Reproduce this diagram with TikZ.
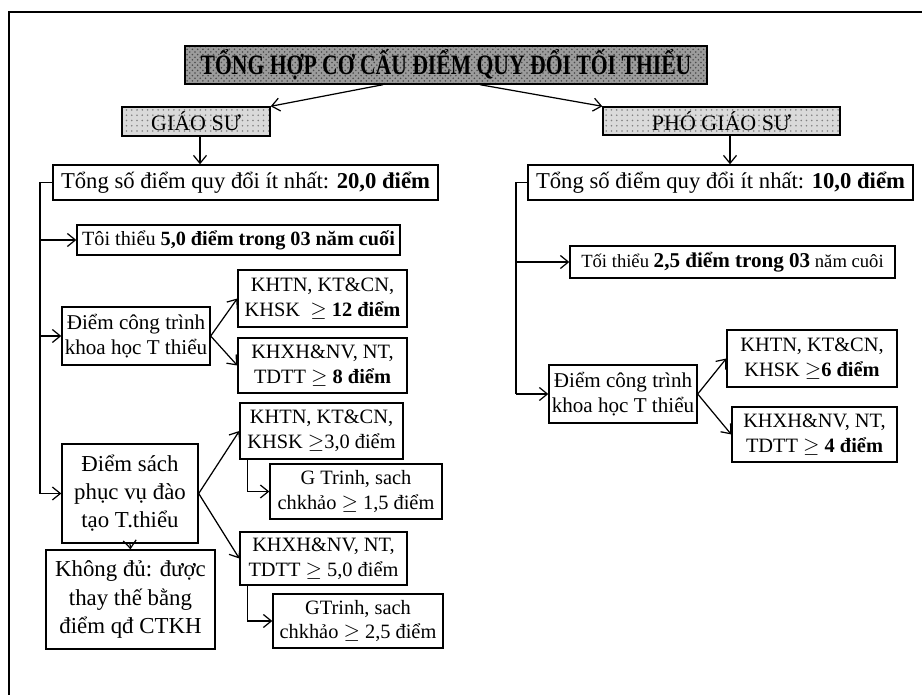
\documentclass[tikz,border=0pt]{standalone}
\usepackage{fontspec}
\setmainfont{Liberation Serif}
\usetikzlibrary{arrows.meta,patterns}
\definecolor{titlefill}{HTML}{9C9C9C}
\definecolor{rankfill}{HTML}{DADADA}
\tikzset{
  box/.style={draw, line width=0.8pt, inner sep=1pt, align=center,
              font=\fontsize{11.6}{14}\selectfont},
  bigbox/.style={box, font=\fontsize{13}{16}\selectfont},
  rankbox/.style={box, preaction={fill=rankfill}, pattern=dots, pattern color=gray,
                  font=\fontsize{12.5}{14}\selectfont},
  link/.style={-{Straight Barb[length=1.6mm,width=2.6mm]}, line width=0.7pt},
}

\begin{document}
\begin{tikzpicture}[x=0.02cm, y=-0.02cm]
    \useasboundingbox (0,0) rectangle (922,695);
    \draw[line width=1.2pt] (9,720) -- (9,12) -- (940,12);

    \node[box, preaction={fill=titlefill}, pattern=crosshatch dots, pattern color=gray!60!black,
          minimum width=10.44cm, minimum height=0.76cm,
          font=\bfseries\fontsize{16}{16}\selectfont] (title) at (446,65)
          {\scalebox{0.77}[1]{TỔNG HỢP CƠ CẤU ĐIỂM QUY ĐỔI TỐI THIỂU}};
    \node[rankbox, minimum width=2.96cm, minimum height=0.58cm] (gs) at (196,121.5) {GIÁO SƯ};
    \node[rankbox, minimum width=4.74cm, minimum height=0.56cm] (pgs) at (721.5,121) {PHÓ GIÁO SƯ};

    \node[box, font=\fontsize{12.9}{15}\selectfont, minimum width=7.7cm, minimum height=0.7cm] (tongL) at (245.5,182.5)
          {Tổng số điểm quy đổi ít nhất: \textbf{20,0 điểm}};
    \node[box, font=\fontsize{12.9}{15}\selectfont, minimum width=7.7cm, minimum height=0.7cm] (tongR) at (720.5,182.5)
          {Tổng số điểm quy đổi ít nhất: \textbf{10,0 điểm}};

    \node[box, font=\fontsize{11.5}{13}\selectfont, minimum width=6.46cm, minimum height=0.6cm] (toiL) at (238.5,240)
          {Tôi thiểu \textbf{5,0 điểm trong 03 năm cuối}};
    \node[box, font=\fontsize{10.6}{13}\selectfont, minimum width=6.5cm, minimum height=0.64cm] (toiR) at (732.5,262)
          {Tối thiểu {\fontsize{12}{13}\selectfont\textbf{2,5 điểm trong 03}} năm cuôi};

    \node[box, font=\fontsize{12}{14.5}\selectfont, minimum width=2.96cm, minimum height=1.16cm] (ctL) at (136,336)
          {Điểm công trình\\khoa học T thiểu};
    \node[box, minimum width=3.38cm, minimum height=1.14cm] (khtnL) at (322.5,298.5)
          {KHTN, KT\&CN,\\KHSK\ \ $\geq$ \textbf{12 điểm}};
    \node[box, minimum width=3.38cm, minimum height=1.1cm] (khxhL) at (322.5,365.5)
          {KHXH\&NV, NT,\\TDTT $\geq$ \textbf{8 điểm}};

    \node[bigbox, minimum width=2.72cm, minimum height=1.98cm] (sach) at (130,493.5) {Điểm sách\\phục vụ đào\\tạo T.thiểu};
    \node[bigbox, minimum width=3.38cm, minimum height=1.98cm] (khongdu) at (130.5,599.5) {Không đủ: được\\thay thế bằng\\điểm qđ CTKH};

    \node[box, minimum width=3.26cm, minimum height=1.12cm] (khtnS) at (321.5,431)
          {KHTN, KT\&CN,\\KHSK $\geq$3,0 điểm};
    \node[box, minimum width=3.44cm, minimum height=1.1cm] (gtA) at (356,491.5)
          {G Trinh, sach\\chkhảo\ $\geq$\ 1,5 điểm};
    \node[box, minimum width=3.34cm, minimum height=1.06cm] (khxhS) at (323.5,558.5)
          {KHXH\&NV, NT,\\TDTT $\geq$\ 5,0 điểm};
    \node[box, minimum width=3.4cm, minimum height=1.08cm] (gtB) at (358,621)
          {GTrinh, sach\\chkhảo\ $\geq$\ 2,5 điểm};

    \node[box, font=\fontsize{12}{14.5}\selectfont, minimum width=2.96cm, minimum height=1.16cm] (ctR) at (623,394)
          {Điểm công trình\\khoa học T thiểu};
    \node[box, minimum width=3.4cm, minimum height=1.14cm] (khtnR) at (812,358.5)
          {KHTN, KT\&CN,\\KHSK $\geq$\textbf{6 điểm}};
    \node[box, minimum width=3.3cm, minimum height=1.1cm] (khxhR) at (814.5,434.5)
          {KHXH\&NV, NT,\\TDTT $\geq$\ \textbf{4 điểm}};

    \coordinate (trunkL) at (40,0);
    \coordinate (trunkR) at (516,0);

    \draw[link] ([xshift=-1.26cm]title.south) -- (gs.north east);
    \draw[link] ([xshift=0.68cm]title.south) -- (pgs.north west);
    \draw[link] ([xshift=0.08cm]gs.south) -- ([xshift=0.08cm]gs.south |- tongL.north);
    \draw[link] ([xshift=0.17cm]pgs.south) -- ([xshift=0.17cm]pgs.south |- tongR.north);

    \draw[line width=0.7pt] (tongL.west) -- (tongL.west -| trunkL) -- (sach.west -| trunkL);
    \draw[link] (toiL.west -| trunkL) -- (toiL.west);
    \draw[link] (ctL.west -| trunkL) -- (ctL.west);
    \draw[link] (sach.west -| trunkL) -- (sach.west);
    \draw[link] (ctL.east) -- (khtnL.west);
    \draw[link] (ctL.east) -- (khxhL.west);
    \draw[link] (sach.east) -- (khtnS.west);
    \draw[link] (sach.east) -- (khxhS.west);
    \draw[link] (sach.south) -- (khongdu.north);
    \draw[link] ([xshift=0.16cm]khtnS.south west) |- (gtA.west);
    \draw[link] ([xshift=0.16cm]khxhS.south west) |- (gtB.west);

    \draw[line width=0.7pt] (tongR.west) -- (tongR.west -| trunkR) -- (ctR.west -| trunkR);
    \draw[link] (toiR.west -| trunkR) -- (toiR.west);
    \draw[link] (ctR.west -| trunkR) -- (ctR.west);
    \draw[link] (ctR.east) -- (khtnR.west);
    \draw[link] (ctR.east) -- (khxhR.west);
  \end{tikzpicture}
\end{document}
